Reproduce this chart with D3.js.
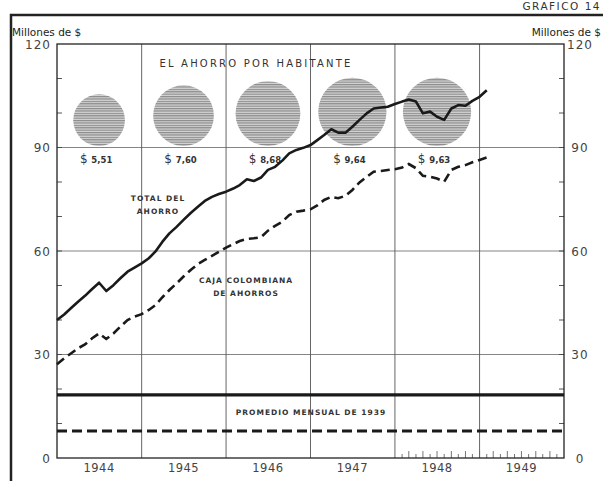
<!DOCTYPE html>
<html><head><meta charset="utf-8">
<script src="https://cdn.jsdelivr.net/npm/d3@7"></script>
<style>body{margin:0;background:#fff}svg{display:block}</style>
</head><body>
<script>
// ---- data ----
const years = [1944, 1945, 1946, 1947, 1948, 1949];
const yTicks = [0, 30, 60, 90, 120];
// Monthly values from January 1944 (millones de $)
const totalAhorro = [40.0,41.6,43.4,45.3,47.0,49.0,50.8,48.4,50.1,52.1,54.0,55.2,
  56.4,57.9,59.8,62.7,65.1,67.0,69.0,71.0,72.8,74.5,75.7,76.5,
  77.2,78.1,79.1,80.8,80.3,81.3,83.5,84.4,86.2,88.3,89.3,89.9,
  90.7,92.2,93.6,95.3,94.3,94.3,96.0,98.0,99.9,101.3,101.6,101.8,
  102.6,103.3,103.9,103.3,99.9,100.4,98.9,98.0,101.3,102.3,102.1,103.5,
  104.7,106.6];
const cajaColombiana = [27.2,28.9,30.3,31.8,32.9,34.7,36.1,34.5,36.1,38.1,40.0,41.0,
  41.7,42.9,44.3,46.6,48.7,50.6,52.6,54.5,56.2,57.4,58.6,59.8,
  61.0,62.0,62.9,63.5,63.7,64.0,65.9,67.3,68.5,70.4,71.4,71.7,
  72.1,73.3,74.8,75.7,75.3,76.0,77.7,79.9,81.5,83.0,83.2,83.5,
  83.7,84.2,85.2,84.0,81.8,81.5,81.0,80.1,83.5,84.4,84.9,85.7,
  86.4,87.1];
const ahorroHabYears = [1944, 1945, 1946, 1947, 1948];
const ahorroHab = [5.51, 7.60, 8.68, 9.64, 9.63];
const ahorroHabLabels = ["5,51", "7,60", "8,68", "9,64", "9,63"];
const promedio1939Total = 18.3;
const promedio1939Caja = 7.8;

// ---- chart ----
const svg = d3.select("body").append("svg").attr("width", 603).attr("height", 481)
  .style("font-family", "'DejaVu Sans', sans-serif");

const x = d3.scaleTime().domain([new Date(1944,0,1), new Date(1950,0,1)]).range([57, 564]);
const y = d3.scaleLinear().domain([0, 120]).range([458, 44]);
const r = d3.scaleSqrt().domain([0, 10]).range([0, 34.8]);

const defs = svg.append("defs");
const pat = defs.append("pattern").attr("id","hatch").attr("patternUnits","userSpaceOnUse")
  .attr("width", 6).attr("height", 2.4);
pat.append("rect").attr("width",6).attr("height",2.4).attr("fill","#d6d6d6");
pat.append("rect").attr("width",6).attr("height",1.2).attr("fill","#8a8a8a");

// outer border
svg.append("path").attr("d","M11,481V15H603").attr("fill","none").attr("stroke","#222").attr("stroke-width",2.5);
svg.append("text").attr("x",601).attr("y",10).attr("text-anchor","end").attr("font-size",10.5).attr("letter-spacing",1.5)
  .attr("fill","#333").text("GRAFICO 14");

svg.append("text").attr("x",12).attr("y",36).attr("font-size",10.5)
  .attr("fill","#222").text("Millones de $");
svg.append("text").attr("x",601).attr("y",36).attr("text-anchor","end").attr("font-size",10.5)
  .attr("fill","#222").text("Millones de $");

// gridlines
const minor = d3.range(10, 120, 10);
svg.append("g").selectAll("line").data(yTicks.filter(d => d > 0 && d < 120)).join("line")
  .attr("x1", 57).attr("x2", 564).attr("y1", d => y(d)).attr("y2", d => y(d))
  .attr("stroke", "#666").attr("stroke-width", 0.8);
svg.append("g").selectAll("line").data(years.slice(1)).join("line")
  .attr("x1", d => x(new Date(d,0,1))).attr("x2", d => x(new Date(d,0,1)))
  .attr("y1", 44).attr("y2", 458).attr("stroke", "#555").attr("stroke-width", 0.9);
// minor ticks left/right
svg.append("g").selectAll("line").data(minor).join("line")
  .attr("x1", 57).attr("x2", 62).attr("y1", d => y(d)).attr("y2", d => y(d))
  .attr("stroke", "#444").attr("stroke-width", 0.9);
svg.append("g").selectAll("line").data(minor).join("line")
  .attr("x1", 559).attr("x2", 564).attr("y1", d => y(d)).attr("y2", d => y(d))
  .attr("stroke", "#444").attr("stroke-width", 0.9);
// monthly ticks 1948-1949
const monthTicks = d3.timeMonth.range(new Date(1948,0,1), new Date(1950,0,1)).slice(1);
svg.append("g").selectAll("line").data(monthTicks).join("line")
  .attr("x1", d => x(d)).attr("x2", d => x(d)).attr("y1", 458)
  .attr("y2", (d,i) => 458 - (i % 2 === 0 ? 4 : 7))
  .attr("stroke", "#666").attr("stroke-width", 0.9);

// frame
svg.append("rect").attr("x",57).attr("y",44).attr("width",507).attr("height",414)
  .attr("fill","none").attr("stroke","#222").attr("stroke-width",1.3);

// axis labels
svg.append("g").selectAll("text").data(yTicks).join("text")
  .attr("x", 51).attr("y", d => y(d) + 4.5).attr("text-anchor","end")
  .attr("font-size", 12).attr("letter-spacing", 1).attr("fill","#444").text(d => d);
svg.append("g").selectAll("text").data(yTicks).join("text")
  .attr("x", 580).attr("y", d => y(d) + 4.5).attr("text-anchor","middle")
  .attr("font-size", 12).attr("letter-spacing", 1).attr("fill","#444").text(d => d);
svg.append("g").selectAll("text").data(years).join("text")
  .attr("x", d => x(new Date(d,6,1))).attr("y", 472).attr("text-anchor","middle")
  .attr("font-size", 11.5).attr("letter-spacing", 0.5).attr("fill","#444").text(d => d);

// per-capita circles
svg.append("text").attr("x",256).attr("y",67).attr("text-anchor","middle")
  .attr("font-size",10).attr("letter-spacing",2.2).attr("fill","#333").text("EL AHORRO POR HABITANTE");
const cg = svg.append("g");
cg.selectAll("circle").data(ahorroHab).join("circle")
  .attr("cx", (d,i) => x(new Date(ahorroHabYears[i],6,1)))
  .attr("cy", d => 146 - r(d)).attr("r", d => r(d)).attr("fill","url(#hatch)");
const lt = cg.selectAll("text").data(ahorroHabLabels).join("text")
  .attr("x", (d,i) => x(new Date(ahorroHabYears[i],6,1)) - 3).attr("y", 163)
  .attr("text-anchor","middle").attr("fill","#333");
lt.append("tspan").attr("font-size",12).text("$ ");
lt.append("tspan").attr("font-size",8.5).attr("font-weight","bold").text(d => d);

// promedio 1939
svg.append("line").attr("x1",57).attr("x2",564).attr("y1",y(promedio1939Total)).attr("y2",y(promedio1939Total))
  .attr("stroke","#1a1a1a").attr("stroke-width",3.2);
svg.append("line").attr("x1",57).attr("x2",564).attr("y1",y(promedio1939Caja)).attr("y2",y(promedio1939Caja))
  .attr("stroke","#1a1a1a").attr("stroke-width",3).attr("stroke-dasharray","10,5");

// series lines
const line = d3.line().x((d,i) => x(new Date(1944,i,1))).y(d => y(d));
svg.append("path").datum(totalAhorro).attr("d", line).attr("fill","none")
  .attr("stroke","#1a1a1a").attr("stroke-width",2.6).attr("stroke-linejoin","round");
svg.append("path").datum(cajaColombiana).attr("d", line).attr("fill","none")
  .attr("stroke","#1a1a1a").attr("stroke-width",2.6).attr("stroke-dasharray","9,5");

// series labels
function label(lines, cx, y0) {
  svg.append("g").selectAll("text").data(lines).join("text")
    .attr("x", cx).attr("y", (d,i) => y0 + i*12.5).attr("text-anchor","middle")
    .attr("font-size",7.5).attr("font-weight","bold").attr("letter-spacing",1).attr("fill","#333").text(d => d);
}
label(["TOTAL DEL","AHORRO"], 158, 201);
label(["CAJA COLOMBIANA","DE AHORROS"], 246, 283);
label(["PROMEDIO MENSUAL DE 1939"], 311, 415);
</script>
</body></html>
